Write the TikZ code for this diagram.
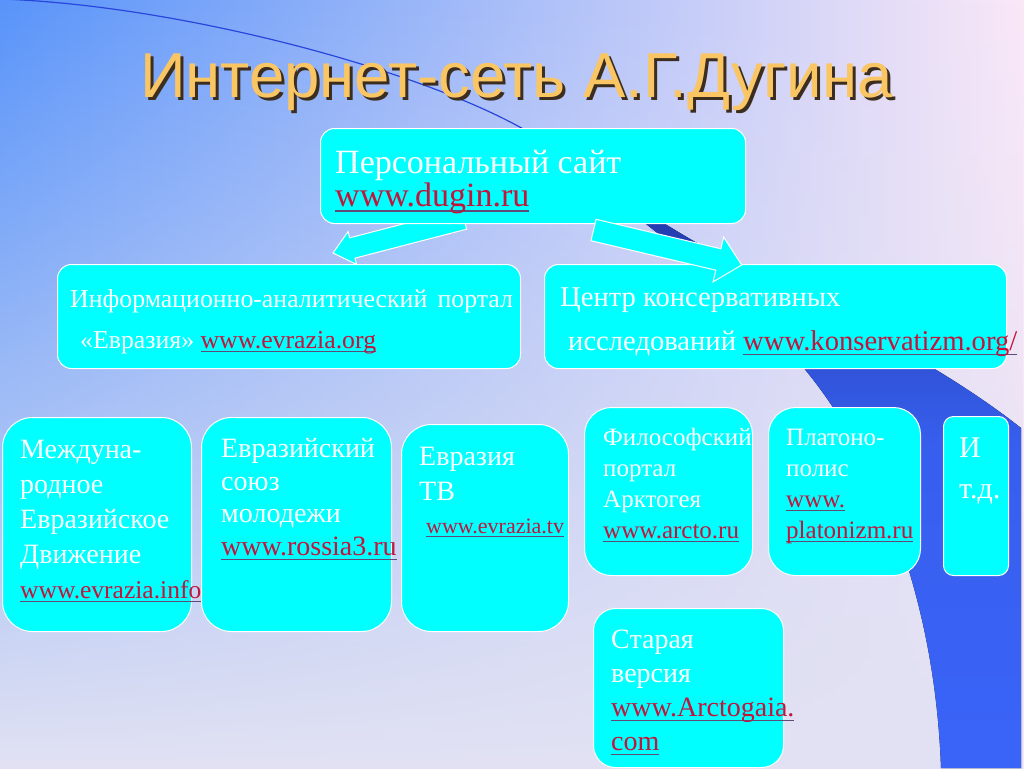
\documentclass[tikz,border=0pt]{standalone}
\usepackage{fontspec}
\setmainfont{Liberation Serif}
\newfontfamily\titlefont{Liberation Sans}
\usetikzlibrary{calc,fadings}

\pgfdeclarelayer{bg}
\pgfdeclarelayer{behind}
\pgfsetlayers{bg,behind,main}

\definecolor{boxcyan}{RGB}{0,255,255}
\definecolor{linkred}{RGB}{195,20,60}
\definecolor{linkline}{RGB}{95,75,120}
\definecolor{bgblue}{RGB}{88,148,250}
\definecolor{bgmid}{RGB}{150,196,246}
\definecolor{bgpink}{RGB}{250,232,248}
\definecolor{bglav}{RGB}{226,226,243}
\definecolor{navy}{RGB}{28,48,150}
\definecolor{royal}{RGB}{58,100,248}
\definecolor{curveblue}{RGB}{40,70,220}
\definecolor{titlecol}{RGB}{250,198,100}
\definecolor{titleshadow}{RGB}{60,45,30}

\newcommand\weblink[1]{\setbox0\hbox{\color{linkred}#1}\rlap{\color{linkline}\rule[-0.17em]{\wd0}{0.045em}}\box0}

% tail, tip, shaft half width, head half width, head length
\newcommand\blockarrow[5]{%
  \coordinate (ba-t) at #1;
  \coordinate (ba-p) at #2;
  \coordinate (ba-b) at ($(ba-p)!#5!(ba-t)$);
  \draw[arrowbox] ($(ba-t)!#3!90:(ba-p)$) -- ($(ba-b)!#3!90:(ba-p)$)
    -- ($(ba-b)!#4!90:(ba-p)$) -- (ba-p) -- ($(ba-b)!#4!-90:(ba-p)$)
    -- ($(ba-b)!#3!-90:(ba-p)$) -- ($(ba-t)!#3!-90:(ba-p)$) -- cycle;
}

\tikzset{
    card/.style={draw=white, line width=1pt, fill=boxcyan, anchor=north west, inner sep=0pt},
    % base = baseline of the last line
    cardtext/.style={text=white, anchor=base west, align=left, inner sep=0pt},
    arrowbox/.style={draw=white, line width=1pt, fill=boxcyan, line join=miter},
    titletext/.style={anchor=base west, inner sep=0pt, font=\titlefont\fontsize{63.5}{63.5}\selectfont},
}

\begin{document}
\begin{tikzpicture}[x=1pt, y=-1pt]
    \useasboundingbox (0,0) rectangle (1024,768);

    \begin{pgfonlayer}{bg}
        \fill[left color=bgblue, middle color=bgmid, right color=bgpink] (0,0) rectangle (1024,768);
        \fill[bglav, path fading=north] (0,0) rectangle (1024,768);
        \draw[curveblue, line width=1.2pt] (0,-1) .. controls (180,5) and (420,70) .. (525,130);
        \fill[top color=navy, bottom color=royal, middle color=royal!90!navy]
            (520,127) .. controls (580,175) and (730,280) .. (803,367)
            .. controls (880,460) and (935,600) .. (941,768) -- (1021,768) -- (1021,428)
            .. controls (960,380) and (880,335) .. (800,298)
            .. controls (700,250) and (600,185) .. (520,127) -- cycle;
    \end{pgfonlayer}

    % title
    \node[titletext, text=titleshadow] (title-s) at (143,100) {Интернет-сеть А.Г.Дугина};
    \node[titletext, text=titlecol] (title) at (140,97) {Интернет-сеть А.Г.Дугина};

    % boxes
    \node[card, minimum width=425pt, minimum height=95pt, rounded corners=14pt] (pers) at (320,128) {};
    \node[card, minimum width=463pt, minimum height=104pt, rounded corners=14pt] (info) at (57,264) {};
    \node[card, minimum width=462pt, minimum height=104pt, rounded corners=14pt] (cons) at (544,264) {};
    \node[card, minimum width=189pt, minimum height=214pt, rounded corners=30pt] (move) at (2,417) {};
    \node[card, minimum width=190pt, minimum height=214pt, rounded corners=30pt] (youth) at (201,417) {};
    \node[card, minimum width=167pt, minimum height=207pt, rounded corners=30pt] (tv) at (401,424) {};
    \node[card, minimum width=168pt, minimum height=168pt, rounded corners=27pt] (arcto) at (584,407) {};
    \node[card, minimum width=152pt, minimum height=168pt, rounded corners=27pt] (plato) at (768,407) {};
    \node[card, minimum width=65pt, minimum height=159pt, rounded corners=10pt] (etc) at (943,416) {};
    \node[card, minimum width=190pt, minimum height=159pt, rounded corners=22pt] (old) at (593,608) {};

    % texts
    \node[cardtext, font=\fontsize{34}{33}\selectfont] (pers-t) at (335,206)
        {Персональный сайт\\\weblink{www.dugin.ru}};
    \node[cardtext, font=\fontsize{25.8}{41}\selectfont] (info-t) at (70,348)
        {Информационно-аналитический\hspace{0.4em}портал\\\hspace*{10pt}«Евразия» \weblink{www.evrazia.org}};
    \node[cardtext, font=\fontsize{28.6}{44}\selectfont] (cons-t) at (560,350)
        {Центр консервативных\\\hspace*{8pt}исследований \weblink{www.konservatizm.org/}};
    \node[cardtext, font=\fontsize{28}{35}\selectfont] (move-t) at (20,598)
        {Междуна-\\родное\\Евразийское\\Движение\\{\fontsize{25.5}{25.5}\selectfont\weblink{www.evrazia.info}}};
    \node[cardtext, font=\fontsize{28}{32.5}\selectfont] (youth-t) at (221,555)
        {Евразийский\\союз\\молодежи\\\weblink{www.rossia3.ru}};
    \node[cardtext, font=\fontsize{28}{35}\selectfont] (tv-t) at (419,533)
        {Евразия\\ТВ\\[-2pt]\hspace*{7pt}{\fontsize{22}{22}\selectfont\weblink{www.evrazia.tv}}};
    \node[cardtext, font=\fontsize{25}{31}\selectfont] (arcto-t) at (603,538)
        {Философский\\портал\\Арктогея\\\weblink{www.arcto.ru}};
    \node[cardtext, font=\fontsize{25}{31}\selectfont] (plato-t) at (786,538)
        {Платоно-\\полис\\\weblink{www.}\\\weblink{platonizm.ru}};
    \node[cardtext, font=\fontsize{30}{41}\selectfont] (etc-t) at (959,498)
        {И\\т.д.};
    \node[cardtext, font=\fontsize{28}{34}\selectfont] (old-t) at (611,750)
        {Старая\\версия\\\weblink{www.Arctogaia.}\\\weblink{com}};

    % arrows
    \begin{pgfonlayer}{behind}
        \blockarrow{($(pers.south west)+(144,-5)$)}{($(info.north west)+(276,-11)$)}{10.5pt}{17pt}{20pt}
    \end{pgfonlayer}
    \blockarrow{($(pers.south west)+(273.5,6)$)}{($(cons.north west)+(197.7,1)$)}{11pt}{23pt}{24pt}
\end{tikzpicture}
\end{document}
